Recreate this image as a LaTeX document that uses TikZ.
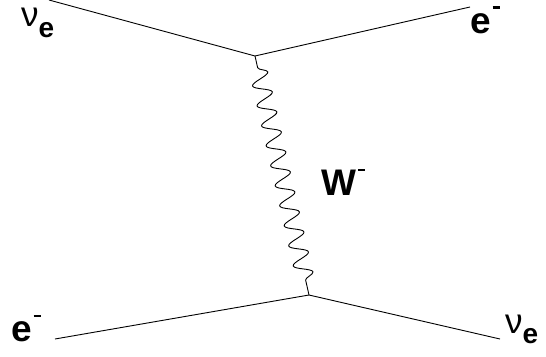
\documentclass[tikz,border=0pt]{standalone}
\usepackage{fontspec}
\setmainfont{Liberation Sans}
\usetikzlibrary{decorations.pathmorphing}
\newcommand{\subE}{\raisebox{-10pt}{\fontsize{28}{30}\selectfont\bfseries e}}
\newcommand{\supM}{\hspace{2pt}\raisebox{24pt}{\rule{7pt}{2.5pt}}}
\tikzset{
  fermion/.style={draw, line width=0.9pt},
  boson/.style={draw, line width=0.9pt, decorate,
    decoration={snake, segment length=20.5pt, amplitude=9pt, pre length=12pt, post length=12pt}},
  lbl/.style={inner sep=0pt, outer sep=0pt, anchor=base west, font=\fontsize{37}{40}\selectfont\bfseries},
  nulbl/.style={inner sep=0pt, outer sep=0pt, anchor=base west, font=\fontsize{35}{40}\selectfont},
}
\begin{document}
\begin{tikzpicture}[x=1pt, y=-1pt]
  \useasboundingbox (0,0) rectangle (546,356);
  % vertices and external points
  \coordinate (vt) at (255,56);
  \coordinate (vb) at (309,295);
  \coordinate (tl) at (49,0);
  \coordinate (tr) at (470,7);
  \coordinate (bl) at (55,339);
  \coordinate (br) at (500,339);
  \draw[fermion] (tl) -- (vt) -- (tr);
  \draw[fermion] (bl) -- (vb) -- (br);
  \draw[boson] (vt) -- (vb);
  % labels
  \node[nulbl] (nu1) at (21,27) {ν\subE};
  \node[lbl] (e1) at (470,33) {e\supM};
  \node[lbl] (e2) at (11,341) {e\supM};
  \node[nulbl] (nu2) at (505,333) {ν\subE};
  \node[lbl] (w) at (321,195) {W\supM};
\end{tikzpicture}
\end{document}
